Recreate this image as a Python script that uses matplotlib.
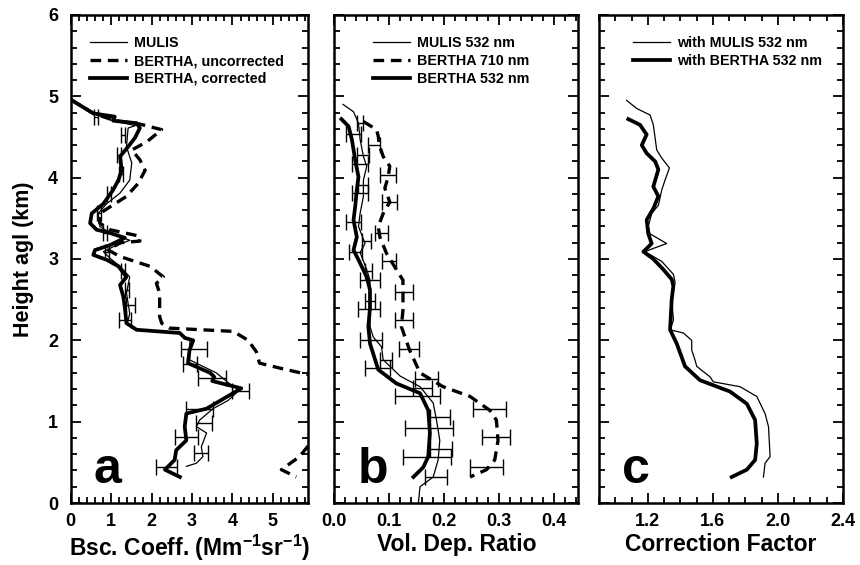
import numpy as np
import matplotlib
matplotlib.use("Agg")
import matplotlib.pyplot as plt
from matplotlib.ticker import MultipleLocator

# fonts
plt.rcParams['font.family'] = ['Liberation Sans', 'DejaVu Sans']
plt.rcParams['mathtext.fontset'] = 'custom'
plt.rcParams['mathtext.rm'] = 'Liberation Sans'
plt.rcParams['mathtext.bf'] = 'Liberation Sans:bold'

# ---- panel a: backscatter coefficient (Mm-1 sr-1) ----
bsc_mulis_h = [4.96, 4.79, 4.70, 4.64, 4.61, 4.50, 4.38, 4.18, 3.97, 3.81, 3.68, 3.56, 3.40, 3.32,
               3.23, 3.15, 3.09, 3.01, 2.91, 2.78, 2.58, 2.33, 2.21, 2.13, 2.09, 2.00, 1.88, 1.76,
               1.60, 1.43, 1.41, 1.26, 1.16, 1.02, 0.94, 0.86, 0.69, 0.57, 0.49, 0.45]
bsc_mulis = [0.0, 0.56, 1.05, 1.60, 1.42, 1.40, 1.38, 1.51, 1.46, 1.22, 0.89, 0.68, 0.72, 0.97,
             1.46, 1.05, 0.81, 0.97, 1.22, 1.46, 1.38, 1.46, 1.40, 1.65, 2.70, 2.95, 2.94, 2.94,
             3.60, 4.02, 4.22, 3.89, 3.52, 3.19, 3.11, 3.36, 3.23, 3.27, 3.11, 2.86]

bsc_unc_h = [4.96, 4.79, 4.70, 4.66, 4.59, 4.44, 4.34, 4.22, 4.09, 3.93, 3.77, 3.64, 3.56, 3.44,
             3.36, 3.28, 3.22, 3.20, 3.11, 3.03, 2.91, 2.78, 2.70, 2.58, 2.29, 2.21, 2.15, 2.11,
             2.00, 1.86, 1.72, 1.66, 1.57, 1.45, 1.20, 0.90, 0.72, 0.57, 0.41, 0.32]
bsc_unc = [0.0, 0.56, 1.10, 1.70, 2.25, 1.88, 1.51, 1.71, 1.84, 1.67, 1.38, 0.97, 0.72, 0.72,
           0.97, 1.71, 1.71, 1.22, 0.93, 1.22, 1.96, 2.29, 2.12, 2.20, 2.20, 2.25, 2.45, 4.02,
           4.39, 4.59, 4.67, 5.16, 5.95, 6.80, 7.50, 7.00, 5.90, 5.66, 5.21, 5.58]

bsc_corr_h = [4.96, 4.79, 4.75, 4.70, 4.67, 4.61, 4.49, 4.38, 4.26, 4.09, 3.97, 3.85, 3.68, 3.56,
              3.44, 3.36, 3.32, 3.26, 3.17, 3.11, 3.05, 2.99, 2.91, 2.78, 2.68, 2.54, 2.40, 2.21,
              2.13, 2.09, 2.03, 2.00, 1.88, 1.72, 1.60, 1.55, 1.50, 1.41, 1.16, 1.10, 0.94, 0.77,
              0.65, 0.53, 0.41, 0.32]
bsc_corr = [0.0, 0.56, 1.09, 1.05, 1.63, 1.71, 1.59, 1.42, 1.22, 1.26, 1.18, 1.05, 0.81, 0.52,
            0.48, 0.64, 0.97, 1.34, 0.97, 0.60, 0.56, 0.89, 1.18, 1.38, 1.22, 1.30, 1.34, 1.38,
            1.63, 2.70, 2.82, 3.03, 2.94, 2.90, 3.45, 3.55, 3.50, 4.22, 3.36, 2.86, 2.82, 2.86,
            2.61, 2.57, 2.33, 2.70]

err_a_h = [4.75, 4.52, 4.28, 4.05, 3.80, 3.56, 3.32, 3.08, 2.85, 2.62, 2.44, 2.25, 1.89, 1.71,
           1.54, 1.38, 1.16, 0.98, 0.81, 0.62, 0.44]
err_a_x = [0.62, 1.30, 1.20, 1.25, 0.95, 0.70, 0.85, 0.90, 1.30, 1.40, 1.48, 1.35, 3.05, 2.95,
           3.50, 4.20, 3.19, 3.30, 2.86, 3.22, 2.37]
err_a_dx = [0.05, 0.05, 0.05, 0.05, 0.05, 0.05, 0.05, 0.05, 0.05, 0.05, 0.11, 0.15, 0.31, 0.17,
            0.35, 0.22, 0.33, 0.19, 0.29, 0.18, 0.25]

# ---- panel b: volume depolarisation ratio ----
dep_mulis_h = [4.90, 4.81, 4.67, 4.47, 4.26, 4.14, 3.97, 3.77, 3.56, 3.40, 3.19, 3.08, 2.87, 2.74,
               2.58, 2.17, 2.04, 1.92, 1.76, 1.56, 1.43, 1.23, 1.02, 0.77, 0.53, 0.32, 0.20, 0.0]
dep_mulis = [0.016, 0.035, 0.044, 0.047, 0.053, 0.059, 0.053, 0.053, 0.047, 0.044, 0.056, 0.047,
             0.059, 0.065, 0.065, 0.065, 0.071, 0.086, 0.089, 0.120, 0.156, 0.180, 0.186, 0.192,
             0.189, 0.180, 0.156, 0.153]

dep_b710_h = [4.69, 4.59, 4.51, 4.40, 4.26, 4.14, 4.01, 3.87, 3.70, 3.56, 3.40, 3.27, 3.07, 2.87,
              2.74, 2.58, 2.37, 2.17, 1.88, 1.60, 1.43, 1.31, 1.14, 1.02, 0.77, 0.53, 0.41, 0.32]
dep_b710 = [0.053, 0.077, 0.080, 0.082, 0.089, 0.101, 0.098, 0.092, 0.101, 0.089, 0.080, 0.083,
            0.095, 0.113, 0.125, 0.125, 0.125, 0.122, 0.137, 0.156, 0.198, 0.247, 0.283, 0.295,
            0.298, 0.292, 0.277, 0.247]

dep_b532_h = [4.72, 4.63, 4.47, 4.22, 4.01, 3.85, 3.64, 3.48, 3.27, 3.11, 2.99, 2.78, 2.62, 2.40,
              2.17, 1.96, 1.64, 1.47, 1.35, 1.14, 0.86, 0.57, 0.44, 0.32]
dep_b532 = [0.013, 0.026, 0.032, 0.038, 0.044, 0.041, 0.038, 0.035, 0.041, 0.035, 0.044, 0.059,
            0.065, 0.065, 0.062, 0.065, 0.080, 0.113, 0.156, 0.171, 0.174, 0.171, 0.162, 0.144]

err_b_h = [4.67, 4.54, 4.40, 4.28, 4.17, 4.03, 3.91, 3.81, 3.70, 3.46, 3.32, 3.22, 3.09, 2.97,
           2.85, 2.74, 2.60, 2.48, 2.38, 2.25, 2.00, 1.89, 1.76, 1.66, 1.53, 1.42, 1.31, 1.16,
           1.06, 0.92, 0.81, 0.67, 0.57, 0.44, 0.32]
err_b_x = [0.047, 0.035, 0.073, 0.052, 0.047, 0.098, 0.053, 0.047, 0.100, 0.035, 0.086, 0.058,
           0.038, 0.100, 0.062, 0.065, 0.127, 0.065, 0.064, 0.127, 0.067, 0.136, 0.094, 0.079,
           0.168, 0.161, 0.151, 0.283, 0.192, 0.172, 0.294, 0.194, 0.169, 0.277, 0.185]
err_b_dx = [0.006, 0.013, 0.011, 0.011, 0.015, 0.015, 0.009, 0.015, 0.014, 0.013, 0.012, 0.008,
            0.012, 0.013, 0.006, 0.018, 0.017, 0.009, 0.020, 0.017, 0.020, 0.018, 0.011, 0.023,
            0.021, 0.017, 0.041, 0.030, 0.018, 0.044, 0.026, 0.020, 0.044, 0.030, 0.020]

# ---- panel c: correction factor ----
cf_mulis_h = [4.95, 4.85, 4.77, 4.65, 4.34, 4.24, 4.12, 3.97, 3.85, 3.66, 3.56, 3.40, 3.31, 3.19,
              3.13, 3.09, 2.97, 2.81, 2.71, 2.50, 2.25, 2.13, 2.09, 2.00, 1.88, 1.76, 1.68, 1.55,
              1.49, 1.43, 1.31, 1.10, 0.94, 0.57, 0.49, 0.32]
cf_mulis = [1.070, 1.132, 1.214, 1.234, 1.255, 1.286, 1.333, 1.306, 1.286, 1.265, 1.224, 1.203,
            1.214, 1.316, 1.234, 1.183, 1.286, 1.358, 1.368, 1.347, 1.358, 1.337, 1.419, 1.470,
            1.470, 1.490, 1.501, 1.583, 1.603, 1.767, 1.870, 1.921, 1.942, 1.952, 1.921, 1.911]

cf_bertha_h = [4.72, 4.65, 4.53, 4.40, 4.30, 4.20, 4.10, 3.89, 3.77, 3.62, 3.48, 3.31, 3.19, 3.09,
               3.00, 2.87, 2.75, 2.67, 2.50, 2.13, 1.96, 1.68, 1.51, 1.37, 1.22, 1.02, 0.73, 0.53,
               0.41, 0.32]
cf_bertha = [1.080, 1.152, 1.193, 1.163, 1.193, 1.245, 1.265, 1.234, 1.265, 1.234, 1.193, 1.203,
             1.224, 1.173, 1.234, 1.296, 1.347, 1.357, 1.347, 1.337, 1.378, 1.429, 1.521, 1.706,
             1.809, 1.860, 1.870, 1.860, 1.809, 1.716]

# figure and axes
fig = plt.figure(figsize=(8.6, 5.65), dpi=100)
ax_a = fig.add_axes([0.0822, 0.1097, 0.276, 0.8638])
ax_b = fig.add_axes([0.3887, 0.1097, 0.2837, 0.8638])
ax_c = fig.add_axes([0.6965, 0.1097, 0.2837, 0.8638])

thin = dict(color='black', lw=0.9)
thick = dict(color='black', lw=2.7)
dash = dict(color='black', lw=2.4, dashes=(3.2, 2.0))
ebar = dict(fmt='none', ecolor='black', elinewidth=1.0, capsize=5.5, capthick=1.0)

ax_a.plot(bsc_mulis, bsc_mulis_h, label='MULIS', **thin)
ax_a.plot(bsc_unc, bsc_unc_h, label='BERTHA, uncorrected', **dash)
ax_a.plot(bsc_corr, bsc_corr_h, label='BERTHA, corrected', **thick)
ax_a.errorbar(err_a_x, err_a_h, xerr=err_a_dx, **ebar)

ax_b.plot(dep_mulis, dep_mulis_h, label='MULIS 532 nm', **thin)
ax_b.plot(dep_b710, dep_b710_h, label='BERTHA 710 nm', **dash)
ax_b.plot(dep_b532, dep_b532_h, label='BERTHA 532 nm', **thick)
ax_b.errorbar(err_b_x, err_b_h, xerr=err_b_dx, **ebar)

ax_c.plot(cf_mulis, cf_mulis_h, label='with MULIS 532 nm', **thin)
ax_c.plot(cf_bertha, cf_bertha_h, label='with BERTHA 532 nm', **thick)

ax_a.set_xlim(0, 5.87)
ax_a.xaxis.set_minor_locator(MultipleLocator(0.2))
ax_a.set_xticks([0, 1, 2, 3, 4, 5])
ax_b.set_xlim(0, 0.444)
ax_b.xaxis.set_minor_locator(MultipleLocator(0.02))
ax_b.set_xticks([0.0, 0.1, 0.2, 0.3, 0.4])
ax_b.set_xticklabels(['0.0', '0.1', '0.2', '0.3', '0.4'])
ax_c.set_xlim(0.9, 2.4)
ax_c.set_xticks([1.2, 1.6, 2.0, 2.4])
ax_c.set_xticklabels(['1.2', '1.6', '2.0', '2.4'])
ax_c.xaxis.set_minor_locator(MultipleLocator(0.1))

xlabels = [r'Bsc. Coeff. (Mm$^{\mathbf{-1}}$sr$^{\mathbf{-1}}$)', 'Vol. Dep. Ratio', 'Correction Factor']
letters = ['a', 'b', 'c']
leg_x = [0.057, 0.135, 0.116]
for ax, xl, let, lx in zip([ax_a, ax_b, ax_c], xlabels, letters, leg_x):
    ax.set_ylim(0, 6)
    ax.yaxis.set_major_locator(MultipleLocator(1))
    ax.yaxis.set_minor_locator(MultipleLocator(0.2))
    ax.tick_params(which='both', direction='in', top=True, right=True, width=1.3)
    ax.tick_params(which='major', length=7)
    ax.tick_params(which='minor', length=4)
    ax.tick_params(axis='x', which='major', pad=7.5)
    ax.tick_params(axis='y', which='major', pad=9)
    for s in ax.spines.values():
        s.set_linewidth(1.8)
    for t in ax.get_xticklabels() + ax.get_yticklabels():
        t.set_fontweight('bold')
        t.set_fontsize(13)
    ax.set_xlabel(xl, fontweight='bold', fontsize=16.5, labelpad=2)
    ax.text(0.094, 0.04, let, transform=ax.transAxes, fontsize=36, fontweight='bold',
            ha='left', va='baseline')
    ax.legend(loc='upper left', bbox_to_anchor=(lx, 0.968), borderaxespad=0,
              frameon=False, handlelength=2.6, handletextpad=0.5, labelspacing=0.26,
              prop=dict(weight='bold', size=10.3))

ax_b.tick_params(labelleft=False)
ax_c.tick_params(labelleft=False)
ax_a.set_ylabel('Height agl (km)', fontweight='bold', fontsize=15.5, labelpad=10)

fig.savefig('out.png', dpi=100)
